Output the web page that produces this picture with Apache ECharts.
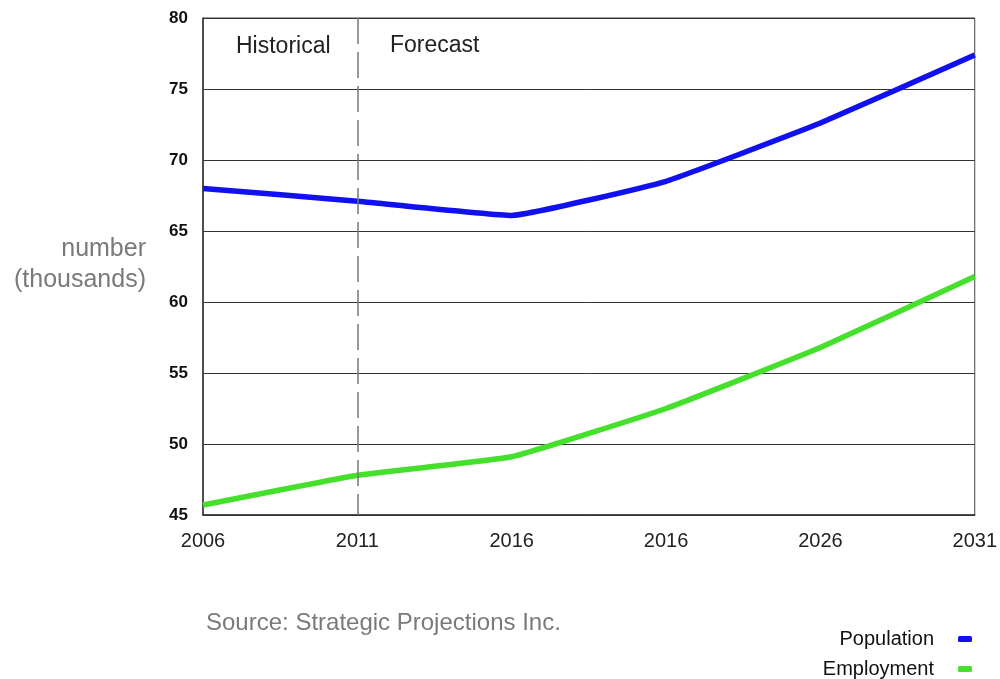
<!DOCTYPE html>
<html>
<head>
<meta charset="utf-8">
<script src="https://cdn.jsdelivr.net/npm/echarts@6/dist/echarts.min.js"></script>
<style>
  html, body { margin: 0; padding: 0; background: #fff; }
  #chart { width: 1000px; height: 679px; }
</style>
</head>
<body>
<div id="chart"></div>
<script>
// Census years and projections (thousands)
const years = ['2006', '2011', '2016', '2016', '2026', '2031'];
const population = [68.0, 67.1, 66.1, 68.5, 72.6, 77.4];
const employment = [45.7, 47.8, 49.1, 52.5, 56.8, 61.8];
const yTicks = [45, 50, 55, 60, 65, 70, 75, 80];

const FONT = 'Liberation Sans, Arial, sans-serif';
const chart = echarts.init(document.getElementById('chart'));

function legendFor(name, top) {
  return {
    orient: 'vertical',
    right: 28, top: top,
    padding: 0,
    align: 'right',
    itemWidth: 14, itemHeight: 6,
    icon: 'roundRect',
    textStyle: { color: '#111', fontSize: 20, fontFamily: FONT, padding: [0, 19, 0, 0] },
    data: [name]
  };
}

chart.setOption({
  animation: false,
  grid: {
    left: 203, right: 23, top: 18, bottom: 164,
    show: true, borderColor: '#444', borderWidth: 1, backgroundColor: 'transparent'
  },
  xAxis: {
    type: 'category',
    data: years,
    boundaryGap: false,
    axisLine: { show: true, lineStyle: { color: '#333', width: 1.5 } },
    axisTick: { show: false },
    axisLabel: { color: '#222', fontSize: 20, fontFamily: FONT, margin: 16, interval: 0 },
    splitLine: { show: false }
  },
  yAxis: {
    type: 'value',
    min: yTicks[0], max: yTicks[yTicks.length - 1], interval: 5,
    axisLine: { show: true, lineStyle: { color: '#333', width: 1.5 } },
    axisTick: { show: false },
    axisLabel: { color: '#111', fontSize: 17, fontWeight: 'bold', fontFamily: FONT, margin: 15 },
    splitLine: { show: true, lineStyle: { color: '#333', width: 1 } }
  },
  legend: [legendFor('Population', 629), legendFor('Employment', 659)],
  graphic: [
    {
      type: 'text', x: 146, y: 234,
      style: {
        text: 'number\n(thousands)', fill: '#7a7a7a', fontSize: 25, lineHeight: 31,
        fontFamily: FONT, align: 'right'
      }
    },
    {
      type: 'text', left: 236, top: 35,
      style: { text: 'Historical', fill: '#222', fontSize: 23, fontFamily: FONT }
    },
    {
      type: 'text', left: 390, top: 34,
      style: { text: 'Forecast', fill: '#222', fontSize: 23, fontFamily: FONT }
    },
    {
      type: 'text', left: 206, top: 611,
      style: { text: 'Source: Strategic Projections Inc.', fill: '#7a7a7a', fontSize: 24, fontFamily: FONT }
    }
  ],
  series: [
    {
      name: 'Population',
      type: 'line',
      data: population,
      symbol: 'none',
      smooth: 0.1,
      itemStyle: { color: '#1010f0' },
      lineStyle: { color: '#1010f0', width: 5.5 },
      z: 3,
      markLine: {
        silent: true,
        symbol: 'none',
        label: { show: false },
        lineStyle: { color: '#777', type: [26, 8], width: 1.5 },
        data: [[{ coord: [1, yTicks[yTicks.length - 1]] }, { coord: [1, yTicks[0]] }]]
      }
    },
    {
      name: 'Employment',
      type: 'line',
      data: employment,
      symbol: 'none',
      smooth: 0.1,
      itemStyle: { color: '#44e02c' },
      lineStyle: { color: '#44e02c', width: 5.5 },
      z: 3
    }
  ]
});
</script>
</body>
</html>
